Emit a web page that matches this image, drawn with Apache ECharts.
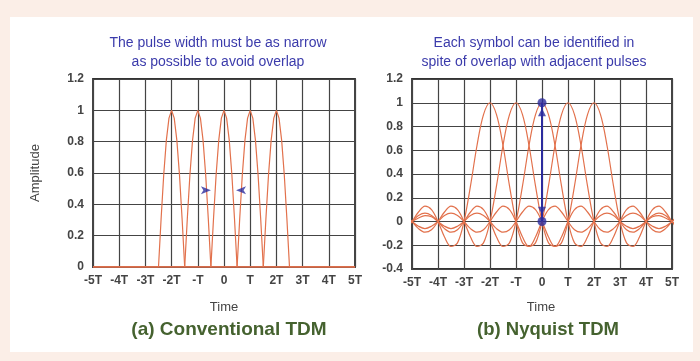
<!DOCTYPE html>
<html>
<head>
<meta charset="utf-8">
<script src="https://cdn.jsdelivr.net/npm/echarts@6/dist/echarts.min.js"></script>
<style>
html, body { margin: 0; padding: 0; background: #fbeee7; }
#chart { width: 700px; height: 361px; }
</style>
</head>
<body>
<div id="chart"></div>
<script>
// tick labels on both time axes
var timeLabels = ['-5T', '-4T', '-3T', '-2T', '-T', '0', 'T', '2T', '3T', '4T', '5T'];

// pulse centres (in T) for both panels
var pulseCenters = [-2, -1, 0, 1, 2];

// (a) conventional TDM: one narrow pulse, offset from its centre vs amplitude
var narrowOffset = [-0.5, -0.4, -0.3, -0.2, -0.1, 0, 0.1, 0.2, 0.3, 0.4, 0.5];
var narrowAmp    = [0, 0.31, 0.59, 0.81, 0.95, 1, 0.95, 0.81, 0.59, 0.31, 0];

// (b) Nyquist TDM: one pulse, one side (it is symmetric), offset vs amplitude
var nyqOffset = [0, 0.25, 0.5, 0.75, 1, 1.25, 1.5, 1.75, 2, 2.25, 2.5, 2.75, 3, 3.25, 3.5, 3.75,
                 4, 4.25, 4.5, 4.75, 5, 5.25, 5.5, 5.75, 6, 6.25, 6.5, 6.75, 7];
var nyqAmp    = [1, 0.90, 0.64, 0.30, 0, -0.18, -0.21, -0.13, 0, 0.10, 0.13, 0.08, 0, -0.07, -0.09, -0.06,
                 0, 0.05, 0.07, 0.05, 0, -0.04, -0.06, -0.04, 0, 0.04, 0.05, 0.03, 0];

// blue annotations
var arrowsA = [[-0.5, 0.49], [0.46, 0.49]];
var dotsB = [[0, 0], [0, 1]];
var headsB = [[0, 0.92], [0, 0.09]];

var pulseColor = '#e2714c';
var blue = '#2c2c9e';

var series = [];
// (a) pulses, zero elsewhere
pulseCenters.forEach(function (c) {
	var d = [[-5, 0]];
	for (var i = 0; i < narrowOffset.length; i++) d.push([c + narrowOffset[i], narrowAmp[i]]);
	d.push([5, 0]);
	series.push({
		type: 'line', xAxisIndex: 0, yAxisIndex: 0, data: d, symbol: 'none',
		lineStyle: { color: pulseColor, width: 1.2 }, silent: true, z: 3
	});
});
// (b) pulses
pulseCenters.forEach(function (c) {
	var d = [];
	for (var i = nyqOffset.length - 1; i > 0; i--) d.push([c - nyqOffset[i], nyqAmp[i]]);
	for (var j = 0; j < nyqOffset.length; j++) d.push([c + nyqOffset[j], nyqAmp[j]]);
	series.push({
		type: 'line', xAxisIndex: 1, yAxisIndex: 1, data: d, symbol: 'none', smooth: 0.35,
		lineStyle: { color: pulseColor, width: 1.2 }, silent: true, z: 3, clip: true
	});
});
// (a) arrows
series.push({
	type: 'scatter', xAxisIndex: 0, yAxisIndex: 0, z: 5,
	data: [
		{ value: arrowsA[0], symbolRotate: -90 },
		{ value: arrowsA[1], symbolRotate: 90 }
	],
	symbol: 'arrow', symbolSize: [6, 10], itemStyle: { color: blue }
});
// (b) double arrow at 0
series.push({
	type: 'line', xAxisIndex: 1, yAxisIndex: 1, data: dotsB, symbol: 'none', z: 5,
	lineStyle: { color: blue, width: 2 }
});
series.push({
	type: 'scatter', xAxisIndex: 1, yAxisIndex: 1, data: dotsB, z: 6,
	symbol: 'circle', symbolSize: 9, itemStyle: { color: blue }
});
series.push({
	type: 'scatter', xAxisIndex: 1, yAxisIndex: 1, z: 6,
	data: [
		{ value: headsB[0], symbolRotate: 0 },
		{ value: headsB[1], symbolRotate: 180 }
	],
	symbol: 'triangle', symbolSize: [8, 8], itemStyle: { color: blue }
});

var tickFont = { color: '#444', fontSize: 12, fontFamily: 'Liberation Sans Narrow, Liberation Sans', fontWeight: 'bold' };

function xAxisOpt(idx) {
	return {
		type: 'value', gridIndex: idx, min: -5, max: 5, interval: 1,
		axisLine: { show: false },
		axisTick: { show: false },
		axisLabel: Object.assign({ margin: 8, formatter: function (v) { return timeLabels[Math.round(v) + 5]; } }, tickFont),
		splitLine: { show: true, lineStyle: { color: '#444', width: 1.2 } }
	};
}
function yAxisOpt(idx, min) {
	return {
		type: 'value', gridIndex: idx, min: min, max: 1.2, interval: 0.2,
		axisLine: { show: false },
		axisTick: { show: true, length: 3, lineStyle: { color: '#444' } },
		axisLabel: Object.assign({ margin: 9 }, tickFont),
		splitLine: { show: true, lineStyle: { color: '#444', width: 1.2 } }
	};
}

var txt = function (x, y, text, size, color, weight, rot) {
	return {
		type: 'text', x: x, y: y, rotation: rot || 0, z: 10,
		style: {
			text: text, fill: color, font: (weight || 'normal') + ' ' + size + 'px "Liberation Sans"',
			textAlign: 'center', textVerticalAlign: 'middle'
		}
	};
};

var myChart = echarts.init(document.getElementById('chart'));
var option = {
	backgroundColor: '#fbeee7',
	animation: false,
	grid: [
		{ left: 93, right: 345, top: 79, bottom: 94, show: true, borderColor: '#333', borderWidth: 1.8, backgroundColor: '#fff' },
		{ left: 412, right: 28, top: 79, bottom: 92, show: true, borderColor: '#333', borderWidth: 1.8, backgroundColor: '#fff' }
	],
	xAxis: [xAxisOpt(0), xAxisOpt(1)],
	yAxis: [yAxisOpt(0, 0), yAxisOpt(1, -0.4)],
	graphic: [
		{ type: 'rect', shape: { x: 10, y: 17, width: 683, height: 335 }, style: { fill: '#ffffff' }, z: -10 },
		txt(218, 43, 'The pulse width must be as narrow', 14, '#3b3bab'),
		txt(218, 62, 'as possible to avoid overlap', 14, '#3b3bab'),
		txt(534, 43, 'Each symbol can be identified in', 14, '#3b3bab'),
		txt(534, 62, 'spite of overlap with adjacent pulses', 14, '#3b3bab'),
		txt(35, 173, 'Amplitude', 13, '#444', 'normal', Math.PI / 2),
		txt(224, 307, 'Time', 13, '#444'),
		txt(541, 307, 'Time', 13, '#444'),
		txt(229, 330, '(a) Conventional TDM', 19, '#45622f', 'bold'),
		txt(548, 330, '(b) Nyquist TDM', 18.5, '#45622f', 'bold')
	],
	series: series
};
myChart.setOption(option);
</script>
</body>
</html>
